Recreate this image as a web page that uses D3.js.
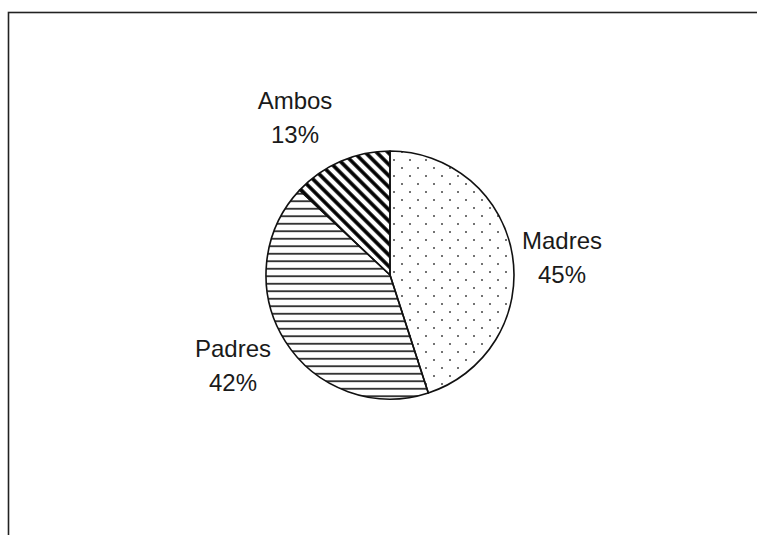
<!DOCTYPE html>
<html>
<head>
<meta charset="utf-8">
<script src="https://cdn.jsdelivr.net/npm/d3@7"></script>
<style>
    html, body { margin: 0; padding: 0; background: #fff; }
    svg { display: block; }
    .label { font-family: "Liberation Sans", Arial, sans-serif; font-size: 24px; fill: #1a1a1a; }
</style>
</head>
<body>
<div id="chart"></div>
<script>
const categories = ['Madres', 'Padres', 'Ambos'];
const percents = [45, 42, 13];
const percentLabels = ['45%', '42%', '13%'];

document.addEventListener('DOMContentLoaded', () => {
    const width = 757;
    const height = 535;
    const cx = 390;
    const cy = 275;
    const radius = 124;

    const svg = d3.select('#chart')
        .append('svg')
        .attr('width', width)
        .attr('height', height);

    const defs = svg.append('defs');

    // dots for Madres
    const dots = defs.append('pattern')
        .attr('id', 'pat-dots')
        .attr('patternUnits', 'userSpaceOnUse')
        .attr('x', cx + 4).attr('y', cy)
        .attr('width', 16).attr('height', 16);
    dots.append('circle').attr('cx', 2).attr('cy', 2).attr('r', 1).attr('fill', '#444');
    dots.append('circle').attr('cx', 10).attr('cy', 10).attr('r', 1).attr('fill', '#444');

    // horizontal lines for Padres
    const hlines = defs.append('pattern')
        .attr('id', 'pat-hlines')
        .attr('patternUnits', 'userSpaceOnUse')
        .attr('x', 0).attr('y', cy)
        .attr('width', 10).attr('height', 7.5);
    hlines.append('line')
        .attr('x1', 0).attr('x2', 10)
        .attr('y1', 3.75).attr('y2', 3.75)
        .attr('stroke', '#111').attr('stroke-width', 1.6);

    // thick diagonal stripes for Ambos
    const diag = defs.append('pattern')
        .attr('id', 'pat-diag')
        .attr('patternUnits', 'userSpaceOnUse')
        .attr('width', 10).attr('height', 8)
        .attr('patternTransform', `translate(${cx},${cy}) rotate(45)`);
    diag.append('line')
        .attr('x1', 0).attr('x2', 10)
        .attr('y1', 4).attr('y2', 4)
        .attr('stroke', '#000').attr('stroke-width', 3.6);

    const fills = d3.scaleOrdinal()
        .domain(categories)
        .range(['url(#pat-dots)', 'url(#pat-hlines)', 'url(#pat-diag)']);

    // frame (cut off at the right and bottom in the source)
    svg.append('rect')
        .attr('x', 8.5).attr('y', 12.5)
        .attr('width', 900).attr('height', 700)
        .attr('fill', 'none')
        .attr('stroke', '#222')
        .attr('stroke-width', 1.6);

    const data = categories.map((c, i) => ({ name: c, value: percents[i], label: percentLabels[i] }));

    const pie = d3.pie()
        .value(d => d.value)
        .sort(null);

    const arc = d3.arc()
        .innerRadius(0)
        .outerRadius(radius);

    const pieGroup = svg.append('g')
        .attr('transform', `translate(${cx},${cy})`);

    pieGroup.selectAll('.slice')
        .data(pie(data))
        .enter().append('path')
        .attr('class', 'slice')
        .attr('d', arc)
        .attr('fill', d => fills(d.data.name))
        .attr('stroke', '#111')
        .attr('stroke-width', 1.6)
        .attr('stroke-linejoin', 'round');

    // label anchors relative to pie centre (Excel "best fit" placement)
    const labelPos = {
        Madres: [172, -9],
        Padres: [-157, 99],
        Ambos: [-95, -149]
    };

    const labels = pieGroup.selectAll('.label')
        .data(pie(data))
        .enter().append('text')
        .attr('class', 'label')
        .attr('text-anchor', 'middle')
        .attr('transform', d => `translate(${labelPos[d.data.name]})`);

    labels.append('tspan')
        .attr('x', 0).attr('y', -17)
        .text(d => d.data.name);
    labels.append('tspan')
        .attr('x', 0).attr('y', 17)
        .text(d => d.data.label);
});
</script>
</body>
</html>
